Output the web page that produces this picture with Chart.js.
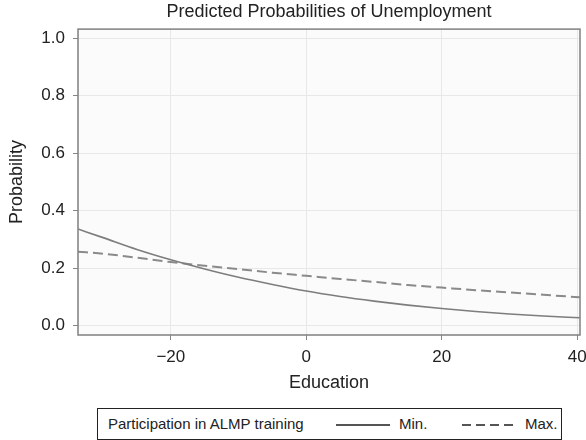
<!DOCTYPE html>
<html>
<head>
<meta charset="utf-8">
<script src="https://cdn.jsdelivr.net/npm/chart.js@4.4.0/dist/chart.umd.min.js"></script>
<style>
    body { margin: 0; background: #fff; font-family: "Liberation Sans", Arial, sans-serif; }
    #wrap { position: relative; width: 586px; height: 440px; overflow: hidden; }
    #chart { position: absolute; left: 0; top: 0; }
    .legend { position: absolute; left: 97px; top: 408px; width: 465px; height: 32px; box-sizing: border-box;
        border: 1px solid #222; font-size: 15px; color: #222; }
    .legend span { position: absolute; top: 6px; white-space: nowrap; }
    .legend .key { position: absolute; top: 15px; height: 1.5px; }
</style>
</head>
<body>
<div id="wrap">
    <canvas id="chart" width="586" height="400"></canvas>
    <div class="legend">
        <span style="left:10px">Participation in ALMP training</span>
        <div class="key" style="left:238px;width:54px;background:#555"></div>
        <span style="left:301px">Min.</span>
        <div class="key" style="left:364px;width:52px;background:repeating-linear-gradient(to right,#555 0 9px,transparent 9px 14px)"></div>
        <span style="left:427px">Max.</span>
    </div>
</div>
<script>
// values
const education = [-33.7, -30, -25, -20, -15, -10, -5, 0, 5, 10, 15, 20, 25, 30, 35, 40.4]
const probMin = [0.336, 0.306, 0.265, 0.229, 0.197, 0.168, 0.143, 0.120, 0.101, 0.085, 0.071, 0.059, 0.049, 0.040, 0.033, 0.027]
const probMax = [0.257, 0.250, 0.236, 0.221, 0.208, 0.196, 0.184, 0.173, 0.162, 0.152, 0.141, 0.132, 0.123, 0.115, 0.107, 0.098]
const xTicks = [-20, 0, 20, 40]
const yTicks = [0, 0.2, 0.4, 0.6, 0.8, 1.0]

const toPoints = (ys) => ys.map((y, i) => ({ x: education[i], y: y }))

// plot background + frame round the plot area
const framePlugin = {
    id: 'frame',
    beforeDraw(chart) {
        const { ctx, chartArea: a } = chart
        ctx.save()
        ctx.fillStyle = '#fbfbfb'
        ctx.fillRect(a.left, a.top, a.right - a.left, a.bottom - a.top)
        ctx.restore()
    },
    afterDraw(chart) {
        const { ctx, chartArea: a } = chart
        ctx.save()
        ctx.strokeStyle = '#808080'
        ctx.lineWidth = 1.5
        ctx.strokeRect(a.left, a.top, a.right - a.left, a.bottom - a.top)
        ctx.restore()
    }
}

const font = { family: '"Liberation Sans", Arial, sans-serif' }

new Chart(document.getElementById('chart'), {
    type: 'line',
    data: {
        datasets: [
            {
                label: 'Min.',
                data: toPoints(probMin),
                borderColor: '#7d7d7d',
                borderWidth: 1.6,
                pointRadius: 0,
                cubicInterpolationMode: 'monotone'
            },
            {
                label: 'Max.',
                data: toPoints(probMax),
                borderColor: '#8a8a8a',
                borderWidth: 2,
                borderDash: [10, 5],
                pointRadius: 0,
                cubicInterpolationMode: 'monotone'
            }
        ]
    },
    options: {
        responsive: false,
        animation: false,
        layout: { padding: { left: 0, right: 6, top: 0, bottom: 0 } },
        plugins: {
            legend: { display: false },
            tooltip: { enabled: false },
            title: {
                display: true,
                fullSize: false,
                text: 'Predicted Probabilities of Unemployment',
                color: '#222',
                font: { ...font, size: 18, weight: 'normal' },
                padding: { top: 1, bottom: 6.5 }
            }
        },
        scales: {
            x: {
                type: 'linear',
                min: -33.7,
                max: 40.4,
                afterBuildTicks: (scale) => { scale.ticks = xTicks.map(v => ({ value: v })) },
                afterFit: (scale) => {
                    scale.height = 65
                    scale.paddingLeft = 0
                    scale.paddingRight = 0
                },
                border: { display: false },
                grid: { color: '#e8e8e8', tickColor: '#858585', tickLength: 5 },
                ticks: {
                    color: '#222',
                    padding: 7,
                    maxRotation: 0,
                    font: { ...font, size: 17 },
                    callback: (v) => v < 0 ? '\u2212' + Math.abs(v) : String(v)
                },
                title: {
                    display: true,
                    text: 'Education',
                    color: '#222',
                    font: { ...font, size: 18 },
                    padding: { top: 0, bottom: 6 }
                }
            },
            y: {
                min: -0.033,
                max: 1.032,
                afterBuildTicks: (scale) => { scale.ticks = yTicks.map(v => ({ value: v })) },
                afterFit: (scale) => { scale.width = 78 },
                border: { display: false },
                grid: { color: '#e8e8e8', tickColor: '#858585', tickLength: 5 },
                ticks: {
                    color: '#222',
                    padding: 8,
                    font: { ...font, size: 17 },
                    callback: (v) => v.toFixed(1)
                },
                title: {
                    display: true,
                    text: 'Probability',
                    color: '#222',
                    font: { ...font, size: 18 },
                    padding: { top: 6, bottom: 0 }
                }
            }
        }
    },
    plugins: [framePlugin]
});
</script>
</body>
</html>
